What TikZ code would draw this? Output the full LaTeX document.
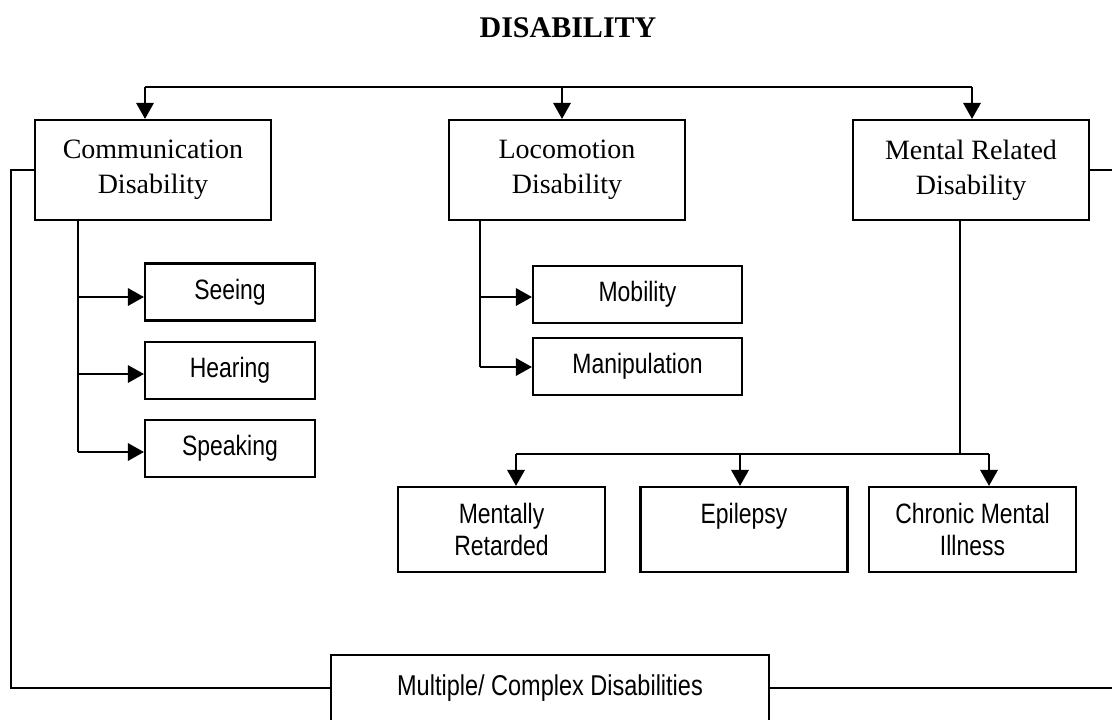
\documentclass[tikz,border=0pt]{standalone}
\usepackage{fontspec}
\setmainfont{Liberation Serif}
\newfontfamily\narrowsans[FakeStretch=0.82]{Liberation Sans}
\usetikzlibrary{arrows.meta}
\begin{document}
\begin{tikzpicture}[x=0.75pt,y=-0.75pt,line width=1.6pt,
  arr/.style={-{Triangle[length=12pt,width=13pt]}},
  topbox/.style={draw,minimum width=177pt,minimum height=75pt,inner sep=0pt,align=center,
    font=\fontsize{21}{26}\selectfont},
  subbox/.style={draw,minimum height=42.75pt,inner sep=0pt,align=center,
    font=\narrowsans\fontsize{21}{24}\selectfont},
  mbox/.style={draw,minimum width=155.25pt,minimum height=63.75pt,inner sep=0pt,align=center,
    font=\narrowsans\fontsize{21}{24}\selectfont},
  titlestyle/.style={font=\fontsize{22.5}{27}\selectfont\bfseries,inner sep=0pt}]
\clip (0,0) rectangle (1112,719);
\node[titlestyle] (title) at (568,28) {DISABILITY};
% top boxes
\node[topbox] (comm) at (153,170) {Communication\\Disability};
\node[topbox] (loco) at (567,170) {Locomotion\\Disability};
\node[topbox] (ment) at (971,170) {Mental Related\\Disability};
% top bar
\coordinate (tl) at (145,87);
\coordinate (tm) at (562,87);
\coordinate (tr) at (972,87);
\draw (tl) -- (tr);
\draw[arr] (tl) -- (tl |- comm.north);
\draw[arr] (tm) -- (tm |- loco.north);
\draw[arr] (tr) -- (tr |- ment.north);
% communication sub boxes
\node[subbox,minimum width=127.5pt] (see) at (230,292) {\vphantom{Sg}Seeing};
\node[subbox,minimum width=127.5pt] (hear) at (230,370.5) {\vphantom{Sg}Hearing};
\node[subbox,minimum width=127.5pt] (speak) at (230,448.5) {\vphantom{Sg}Speaking};
\coordinate (ct) at (78,220);
\coordinate (c1) at (78,297);
\coordinate (c2) at (78,374);
\coordinate (c3) at (78,452);
\draw (ct) -- (c3);
\draw[arr] (c1) -- (c1 -| see.west);
\draw[arr] (c2) -- (c2 -| hear.west);
\draw[arr] (c3) -- (c3 -| speak.west);
% locomotion sub boxes
\node[subbox,minimum width=156.75pt] (mob) at (637.5,294.5) {\vphantom{Sg}Mobility};
\node[subbox,minimum width=156.75pt] (manip) at (637.5,366.5) {\vphantom{Sg}Manipulation};
\coordinate (lt) at (480,220);
\coordinate (l1) at (480,297);
\coordinate (l2) at (480,367);
\draw (lt) -- (l2);
\draw[arr] (l1) -- (l1 -| mob.west);
\draw[arr] (l2) -- (l2 -| manip.west);
% mental sub boxes
\node[mbox] (retard) at (501.5,529.5) {Mentally\\Retarded};
\node[mbox] (epil) at (744,529.5) {Epilepsy\\\vphantom{Retarded}};
\node[mbox] (chron) at (972.5,529.5) {Chronic Mental\\Illness};
\coordinate (mt) at (960,220);
\coordinate (mj) at (960,454);
\coordinate (b1) at (516,454);
\coordinate (b2) at (740,454);
\coordinate (b3) at (989,454);
\draw (mt) -- (mj);
\draw (b1) -- (b3);
\draw[arr] (b1) -- (b1 |- retard.north);
\draw[arr] (b2) -- (b2 |- epil.north);
\draw[arr] (b3) -- (b3 |- chron.north);
% multiple
\node[draw,minimum width=328.5pt,minimum height=49.5pt,inner sep=0pt,
  font=\narrowsans\fontsize{21.5}{24}\selectfont] (multi) at (550,688) {Multiple/ Complex Disabilities};
\coordinate (lc) at (11,170);
\coordinate (rc) at (1114,170);
\draw (comm.west |- lc) -- (lc) |- (multi.west);
\draw (ment.east |- rc) -- (rc) |- (multi.east);
\end{tikzpicture}
\end{document}
